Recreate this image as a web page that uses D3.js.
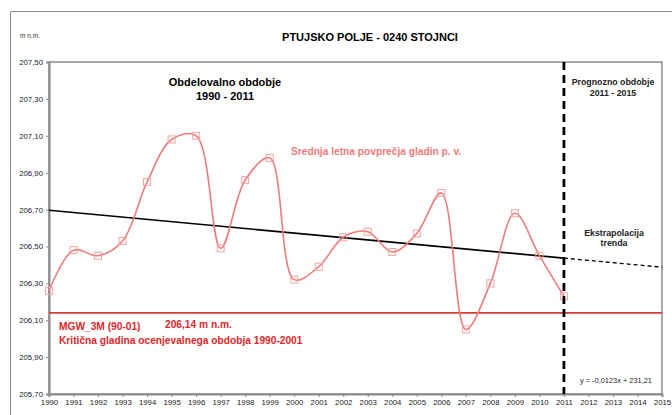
<!DOCTYPE html>
<html>
<head>
<meta charset="utf-8">
<script src="https://cdn.jsdelivr.net/npm/d3@7"></script>
<style>
  html, body { margin: 0; padding: 0; background: #fff; }
  svg { display: block; font-family: Arial, "Liberation Sans", sans-serif; }
</style>
</head>
<body>
<svg id="chart" width="672" height="415"></svg>
<script>
// Annual mean groundwater levels (m n.m.), station 0240 Stojnci
const years = [1990, 1991, 1992, 1993, 1994, 1995, 1996, 1997, 1998, 1999, 2000,
               2001, 2002, 2003, 2004, 2005, 2006, 2007, 2008, 2009, 2010, 2011];
const levels = [206.26, 206.48, 206.45, 206.53, 206.85, 207.08, 207.10, 206.49, 206.86, 206.98, 206.32,
                206.39, 206.55, 206.58, 206.47, 206.57, 206.79, 206.05, 206.30, 206.68, 206.45, 206.23];

const xTicks = d3.range(1990, 2016);
const yTicks = [205.70, 205.90, 206.10, 206.30, 206.50, 206.70, 206.90, 207.10, 207.30, 207.50];

const criticalLevel = 206.14;          // MGW_3M (90-01)
const observedEnd = 2011;              // end of observed period
const forecastEnd = 2015;
const trendEquation = "y = -0,0123x + 231,21";

const svg = d3.select("#chart");
const fmt = v => d3.format(".2f")(v).replace(".", ",");

const margin = { left: 49, right: 10, top: 62, bottom: 21 };
const W = 672, H = 415;

const x = d3.scaleLinear().domain([1990, 2015]).range([margin.left, W - margin.right]);
const y = d3.scaleLinear().domain([205.70, 207.50]).range([H - margin.bottom, margin.top]);

// Outer chart border (runs off the page on the right and bottom)
svg.append("path")
  .attr("d", `M10.5,${H + 2} V11.5 H${W + 2}`)
  .attr("fill", "none").attr("stroke", "#8c8c8c").attr("stroke-width", 1);

// Plot frame
svg.append("rect")
  .attr("x", x(1990)).attr("y", y(207.5))
  .attr("width", x(2015) - x(1990)).attr("height", y(205.7) - y(207.5))
  .attr("fill", "none").attr("stroke", "#555").attr("stroke-width", 1);

// Axes
const yAxis = svg.append("g")
  .attr("transform", `translate(${x(1990)},0)`)
  .call(d3.axisLeft(y).tickValues(yTicks).tickFormat(fmt).tickSize(3).tickPadding(3));
const xAxis = svg.append("g")
  .attr("transform", `translate(0,${y(205.7)})`)
  .call(d3.axisBottom(x).tickValues(xTicks).tickFormat(d3.format("d")).tickSize(3).tickPadding(2));

[yAxis, xAxis].forEach(g => {
  g.select(".domain").attr("stroke", "#8c8c8c").attr("stroke-width", 2);
  g.selectAll(".tick line").attr("stroke", "#8c8c8c");
  g.selectAll(".tick text").attr("fill", "#222").style("font-size", "7.8px")
    .style("font-family", "Arial, 'Liberation Sans', sans-serif");
});

// Least-squares trend through the observed means
const mx = d3.mean(years), my = d3.mean(levels);
const slope = d3.sum(years, (d, i) => (d - mx) * (levels[i] - my)) /
              d3.sum(years, d => (d - mx) * (d - mx));
const trendAt = t => my + slope * (t - mx);

// Critical level
svg.append("line")
  .attr("x1", x(1990)).attr("x2", x(2015))
  .attr("y1", y(criticalLevel)).attr("y2", y(criticalLevel))
  .attr("stroke", "#d63a34").attr("stroke-width", 1.6);

// Trend: observed part solid, extrapolation dashed
svg.append("line")
  .attr("x1", x(1990)).attr("y1", y(trendAt(1990)))
  .attr("x2", x(observedEnd)).attr("y2", y(trendAt(observedEnd)))
  .attr("stroke", "#000").attr("stroke-width", 1.6);
svg.append("line")
  .attr("x1", x(observedEnd)).attr("y1", y(trendAt(observedEnd)))
  .attr("x2", x(forecastEnd)).attr("y2", y(trendAt(forecastEnd)))
  .attr("stroke", "#000").attr("stroke-width", 1.3).attr("stroke-dasharray", "4,3");

// Smoothed series line
const pts = years.map((d, i) => [d, levels[i]]);
svg.append("path")
  .datum(pts)
  .attr("fill", "none")
  .attr("stroke", "#f07b7b")
  .attr("stroke-width", 1.6)
  .attr("d", d3.line().x(d => x(d[0])).y(d => y(d[1])).curve(d3.curveCatmullRom.alpha(0.5)));

// Open square markers
svg.append("g").selectAll("rect")
  .data(pts).join("rect")
  .attr("x", d => x(d[0]) - 3.5).attr("y", d => y(d[1]) - 3.5)
  .attr("width", 7).attr("height", 7)
  .attr("fill", "none").attr("stroke", "#f5a3a3").attr("stroke-width", 1);

// Boundary between observed and forecast periods
svg.append("line")
  .attr("x1", x(observedEnd)).attr("x2", x(observedEnd))
  .attr("y1", y(207.5)).attr("y2", y(205.7))
  .attr("stroke", "#000").attr("stroke-width", 2.8).attr("stroke-dasharray", "8,5");

// Texts
function txt(s, tx, ty, opts = {}) {
  return svg.append("text")
    .attr("x", tx).attr("y", ty)
    .attr("text-anchor", opts.anchor || "start")
    .attr("fill", opts.fill || "#000")
    .style("font-size", (opts.size || 9) + "px")
    .style("font-weight", opts.bold ? "bold" : "normal")
    .text(s);
}

txt("m n.m.", 20, 38, { size: 6.5, fill: "#333" });
txt("PTUJSKO POLJE - 0240 STOJNCI", 370, 41, { size: 11, bold: true, anchor: "middle" });

txt("Obdelovalno obdobje", 225, 86, { size: 11, bold: true, anchor: "middle" });
txt("1990 - 2011", 225, 100, { size: 11, bold: true, anchor: "middle" });

txt("Prognozno obdobje", 613, 85, { size: 8.8, bold: true, anchor: "middle", fill: "#222" });
txt("2011 - 2015", 613, 96, { size: 8.8, bold: true, anchor: "middle", fill: "#222" });

txt("Srednja letna povprečja gladin p. v.", 291, 155, { size: 10.2, bold: true, fill: "#f07b7b" });

txt("Ekstrapolacija", 614, 236, { size: 8.8, bold: true, anchor: "middle", fill: "#222" });
txt("trenda", 614, 246, { size: 8.8, bold: true, anchor: "middle", fill: "#222" });

txt("MGW_3M (90-01)", 59, 330, { size: 10.2, bold: true, fill: "#e0262b" });
txt(fmt(criticalLevel) + " m n.m.", 165, 328, { size: 10.2, bold: true, fill: "#e0262b" });
txt("Kritična gladina ocenjevalnega obdobja 1990-2001", 59, 344, { size: 10.2, bold: true, fill: "#e0262b" });

txt(trendEquation, 580, 383, { size: 7.4, fill: "#222" });
</script>
</body>
</html>
